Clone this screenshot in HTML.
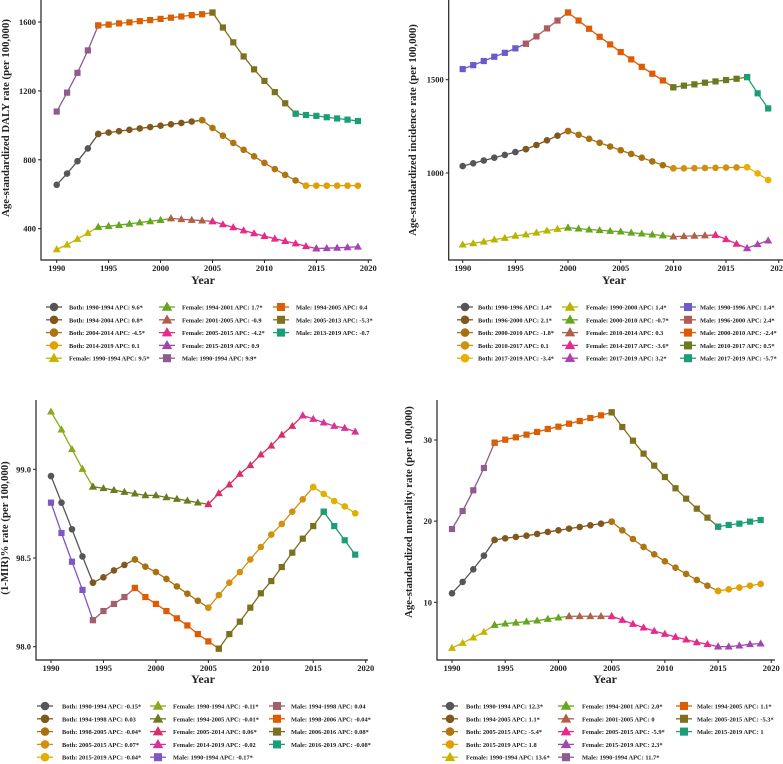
<!DOCTYPE html>
<html><head><meta charset="utf-8"><style>
html,body{margin:0;padding:0;background:#fff;}
svg{display:block;font-family:"Liberation Serif",serif;}
</style></head><body>
<svg id="fig" width="783" height="764" viewBox="0 0 783 764" xmlns="http://www.w3.org/2000/svg"></svg>
<script>
// ---------- data ----------
const years = [1990,1991,1992,1993,1994,1995,1996,1997,1998,1999,2000,2001,2002,2003,2004,2005,2006,2007,2008,2009,2010,2011,2012,2013,2014,2015,2016,2017,2018,2019];

const dalyBoth   = [655,720,792,866,950,958,966,974,982,990,998,1006,1014,1022,1030,985,940,898,858,820,782,746,712,680,650,650,650,650,650,650];
const dalyFemale = [280,307,340,375,410,415,421,428,436,443,450,460,455,451,447,443,425,408,390,373,357,342,328,314,298,285,287,289,292,295];
const dalyMale   = [1080,1190,1305,1435,1580,1585,1592,1598,1605,1611,1618,1625,1632,1640,1645,1655,1568,1482,1400,1325,1258,1193,1128,1068,1060,1055,1047,1040,1033,1025];

const incBoth   = [1037,1052,1067,1082,1097,1112,1128,1150,1175,1200,1225,1205,1183,1162,1142,1122,1102,1082,1062,1042,1025,1025,1026,1027,1028,1029,1030,1031,998,962];
const incFemale = [616,623,632,643,652,663,670,680,691,700,707,702,697,693,689,686,680,675,670,665,659,661,663,665,668,645,620,597,618,638];
const incMale   = [1557,1578,1600,1623,1644,1668,1693,1732,1775,1817,1860,1817,1773,1730,1689,1648,1609,1569,1532,1496,1459,1468,1475,1484,1491,1498,1505,1514,1427,1346];

const mirBoth   = [98.962,98.812,98.662,98.509,98.361,98.391,98.430,98.461,98.492,98.451,98.421,98.382,98.340,98.299,98.259,98.220,98.291,98.361,98.421,98.492,98.562,98.632,98.692,98.761,98.831,98.900,98.861,98.821,98.791,98.752];
const mirFemale = [99.325,99.224,99.113,99.002,98.902,98.893,98.883,98.872,98.863,98.853,98.853,98.842,98.833,98.823,98.812,98.803,98.865,98.914,98.974,99.023,99.083,99.133,99.194,99.244,99.303,99.284,99.263,99.244,99.233,99.212];
const mirMale   = [98.812,98.641,98.479,98.320,98.150,98.201,98.241,98.280,98.331,98.280,98.241,98.201,98.160,98.120,98.071,98.030,97.989,98.071,98.141,98.220,98.301,98.370,98.449,98.530,98.609,98.680,98.761,98.680,98.600,98.519];

const mortBoth   = [11.11,12.51,14.07,15.75,17.68,17.89,18.05,18.21,18.42,18.67,18.87,19.08,19.28,19.49,19.69,19.94,18.87,17.80,16.82,15.91,15.05,14.27,13.49,12.75,12.05,11.40,11.60,11.81,12.05,12.26];
const mortFemale = [4.37,4.99,5.65,6.34,7.21,7.37,7.49,7.62,7.74,7.95,8.11,8.28,8.28,8.28,8.28,8.28,7.82,7.33,6.88,6.47,6.10,5.73,5.40,5.07,4.83,4.54,4.54,4.66,4.83,4.91];
const mortMale   = [19.03,21.25,23.80,26.55,29.67,30.04,30.33,30.66,30.99,31.36,31.64,32.01,32.34,32.71,33.04,33.41,31.60,29.92,28.32,26.84,25.44,24.05,22.77,21.54,20.43,19.32,19.53,19.69,19.94,20.14];

const xTicks = [1990,1995,2000,2005,2010,2015,2020];
const dalyTicks = [400,800,1200,1600];
const incTicks = [1000,1500];
const mirTicks = [98.0,98.5,99.0];
const mirTickLabels = ["98.0","98.5","99.0"];
const mortTicks = [10,20,30];

const dalySegBoth = ["1990-1994 APC: 9.6*","1994-2004 APC: 0.8*","2004-2014 APC: -4.5*","2014-2019 APC: 0.1"];
const dalySegFemale = ["1990-1994 APC: 9.5*","1994-2001 APC: 1.7*","2001-2005 APC: -0.9","2005-2015 APC: -4.2*","2015-2019 APC: 0.9"];
const dalySegMale = ["1990-1994 APC: 9.9*","1994-2005 APC: 0.4","2005-2013 APC: -5.3*","2013-2019 APC: -0.7"];

const incSegBoth = ["1990-1996 APC: 1.4*","1996-2000 APC: 2.1*","2000-2010 APC: -1.8*","2010-2017 APC: 0.1","2017-2019 APC: -3.4*"];
const incSegFemale = ["1990-2000 APC: 1.4*","2000-2010 APC: -0.7*","2010-2014 APC: 0.3","2014-2017 APC: -3.6*","2017-2019 APC: 3.2*"];
const incSegMale = ["1990-1996 APC: 1.4*","1996-2000 APC: 2.4*","2000-2010 APC: -2.4*","2010-2017 APC: 0.5*","2017-2019 APC: -5.7*"];

const mirSegBoth = ["1990-1994 APC: -0.15*","1994-1998 APC: 0.03","1998-2005 APC: -0.04*","2005-2015 APC: 0.07*","2015-2019 APC: -0.04*"];
const mirSegFemale = ["1990-1994 APC: -0.11*","1994-2005 APC: -0.01*","2005-2014 APC: 0.06*","2014-2019 APC: -0.02"];
const mirSegMale = ["1990-1994 APC: -0.17*","1994-1998 APC: 0.04","1998-2006 APC: -0.04*","2006-2016 APC: 0.08*","2016-2019 APC: -0.08*"];

const mortSegBoth = ["1990-1994 APC: 12.3*","1994-2005 APC: 1.1*","2005-2015 APC: -5.4*","2015-2019 APC: 1.8"];
const mortSegFemale = ["1990-1994 APC: 13.6*","1994-2001 APC: 2.0*","2001-2005 APC: 0","2005-2015 APC: -5.9*","2015-2019 APC: 2.3*"];
const mortSegMale = ["1990-1994 APC: 11.7*","1994-2005 APC: 1.1*","2005-2015 APC: -5.3*","2015-2019 APC: 1"];

// ---------- drawing ----------
const NS = "http://www.w3.org/2000/svg";
const svg = document.getElementById('fig');
function mk(tag, attrs, parent){
  const e = document.createElementNS(NS, tag);
  for (const k in attrs) e.setAttribute(k, attrs[k]);
  (parent||svg).appendChild(e);
  return e;
}
function marker(g, shape, x, y, col, s){
  let e;
  if (shape==='circle') e = mk('circle',{cx:x,cy:y,r:3.3*s,fill:col},g);
  else if (shape==='tri') e = mk('polygon',{points:`${x},${y-4.2*s} ${x-4*s},${y+2.9*s} ${x+4*s},${y+2.9*s}`,fill:col},g);
  else e = mk('rect',{x:x-3.1*s,y:y-3.1*s,width:6.2*s,height:6.2*s,fill:col},g);
  return e;
}

function panel(cfg){
  const g = mk('g',{});
  
  
  const xs = v => cfg.x0 + (v-1990)*(cfg.x1-cfg.x0)/30;
  const ys = v => cfg.yA + (v-cfg.vA)*(cfg.yB-cfg.yA)/(cfg.vB-cfg.vA);
  const ax = mk('path',{d:`M${cfg.axL},${cfg.axT} V${cfg.axB} H${cfg.axR}`,stroke:'#222',fill:'none','stroke-width':1.2},g);
  
  
  xTicks.forEach(t=>{
    mk('line',{x1:xs(t),x2:xs(t),y1:cfg.axB,y2:cfg.axB+3,stroke:'#222'},g);
    const tx = mk('text',{x:xs(t),y:cfg.axB+11,'text-anchor':'middle','font-size':8.5,'font-weight':'bold',fill:'#222'},g);
    tx.textContent = t;
    
    
  });
  cfg.yTicks.forEach((t,i)=>{
    mk('line',{x1:cfg.axL-3,x2:cfg.axL,y1:ys(t),y2:ys(t),stroke:'#222'},g);
    const tx = mk('text',{x:cfg.axL-5,y:ys(t)+3,'text-anchor':'end','font-size':8.5,'font-weight':'bold',fill:'#222'},g);
    tx.textContent = cfg.yLabels ? cfg.yLabels[i] : t;
    
    
  });
  const xt = mk('text',{x:cfg.xtX,y:cfg.xtY,'text-anchor':'middle','font-size':12,'font-weight':'bold',fill:'#222'},g);
  xt.textContent='Year';
  
  
  const yt = mk('text',{transform:`translate(${cfg.ytX},${cfg.ytY}) rotate(-90)`,'text-anchor':'middle','font-size':10.8,'font-weight':'bold',fill:'#222'},g);
  yt.textContent=cfg.yTitle;
  
  

  const legendItems = [];
  cfg.series.forEach(sr=>{
    const sg = mk('g',{},g);
    
    
    sr.segs.forEach((lab,k)=>{
      const a = +lab.slice(0,4), b = +lab.slice(5,9);
      const col = sr.colors[k];
      let pts = [];
      for (let yr=a; yr<=b; yr++){ const i = years.indexOf(yr); pts.push([xs(yr), ys(sr.vals[i])]); }
      const pl = mk('polyline',{points:pts.map(p=>p.join(',')).join(' '),fill:'none',stroke:col,'stroke-width':1.3},sg);
      
      
      pts.forEach(p=>{
        const m = marker(sg, sr.shape, p[0], p[1], col, 1);
        
        
      });
      legendItems.push({label: sr.group+': '+lab, col, shape: sr.shape});
    });
  });
  const lg = mk('g',{},g);
  
  
  legendItems.forEach((it,i)=>{
    const c = Math.floor(i/5), r = i%5;
    const mx = cfg.legCols[c][0], tx = cfg.legCols[c][1], y = cfg.legY + r*12.8;
    const eg = mk('g',{},lg);
    
    
    mk('line',{x1:mx-8,x2:mx+8,y1:y,y2:y,stroke:it.col,'stroke-width':1.3},eg);
    marker(eg, it.shape, mx, y, it.col, 1.3);
    const t = mk('text',{x:tx,y:y+2.5,'font-size':6.4,'font-weight':'bold',fill:'#222'},eg);
    t.textContent = it.label;
  });
}

panel({name:'daly-panel', x0:56.7,x1:368.3, vA:1600,yA:22, vB:400,yB:228.7,
  axL:41,axT:0,axB:260,axR:372, yTicks:dalyTicks,
  xtX:203,xtY:284, ytX:9,ytY:118, yTitle:'Age-standardized DALY rate (per 100,000)',
  legY:307, legCols:[[54,69],[167,182],[281,296]],
  series:[
    {group:'Both',shape:'circle',vals:dalyBoth,segs:dalySegBoth,colors:['#565656','#80581e','#b07410','#e0a000']},
    {group:'Female',shape:'tri',vals:dalyFemale,segs:dalySegFemale,colors:['#c8b400','#66a61e','#b0604a','#e7298a','#a046b0']},
    {group:'Male',shape:'sq',vals:dalyMale,segs:dalySegMale,colors:['#8e5c8e','#d95f02','#7f7020','#1b9e77']}
  ]});

panel({name:'incidence-panel', x0:462.7,x1:778.7, vA:1500,yA:79.7, vB:1000,yB:173,
  axL:448.7,axT:0,axB:260,axR:783, yTicks:incTicks,
  xtX:614,xtY:284, ytX:416,ytY:130, yTitle:'Age-standardized incidence rate (per 100,000)',
  legY:307, legCols:[[465,478],[570,586],[688,700]],
  series:[
    {group:'Both',shape:'circle',vals:incBoth,segs:incSegBoth,colors:['#565656','#80581e','#a8700e','#d09010','#e8b000']},
    {group:'Female',shape:'tri',vals:incFemale,segs:incSegFemale,colors:['#b8b400','#66a61e','#b0604a','#e7298a','#b040b0']},
    {group:'Male',shape:'sq',vals:incMale,segs:incSegMale,colors:['#6a5acd','#b05b5b','#e05a02','#6b7a1e','#1b9e77']}
  ]});

panel({name:'mir-panel', x0:51,x1:365.7, vA:99.0,yA:469.3, vB:98.0,yB:646.7,
  axL:36,axT:400,axB:660,axR:368, yTicks:mirTicks, yLabels:mirTickLabels,
  xtX:203,xtY:683, ytX:8,ytY:528, yTitle:'(1-MIR)% rate (per 100,000)',
  legY:706, legCols:[[45,62],[158,173],[277,291]],
  series:[
    {group:'Both',shape:'circle',vals:mirBoth,segs:mirSegBoth,colors:['#565656','#80581e','#a8700e','#d09010','#e0b000']},
    {group:'Female',shape:'tri',vals:mirFemale,segs:mirSegFemale,colors:['#8aa81e','#6b7a1e','#d6306a','#d9309a']},
    {group:'Male',shape:'sq',vals:mirMale,segs:mirSegMale,colors:['#7e57c2','#a0616a','#e05a02','#7a7020','#1b9e77']}
  ]});

panel({name:'mortality-panel', x0:452,x1:771.3, vA:30,yA:440, vB:10,yB:602.3,
  axL:437,axT:400,axB:660,axR:775, yTicks:mortTicks,
  xtX:605,xtY:683, ytX:412,ytY:512, yTitle:'Age-standardized mortality rate (per 100,000)',
  legY:706, legCols:[[450,466],[566,582],[684,697]],
  series:[
    {group:'Both',shape:'circle',vals:mortBoth,segs:mortSegBoth,colors:['#565656','#80581e','#b07410','#e0a000']},
    {group:'Female',shape:'tri',vals:mortFemale,segs:mortSegFemale,colors:['#c8b400','#66a61e','#b0604a','#e7298a','#a046b0']},
    {group:'Male',shape:'sq',vals:mortMale,segs:mortSegMale,colors:['#8e5c8e','#d95f02','#7f7020','#1b9e77']}
  ]});
</script>
</body></html>
